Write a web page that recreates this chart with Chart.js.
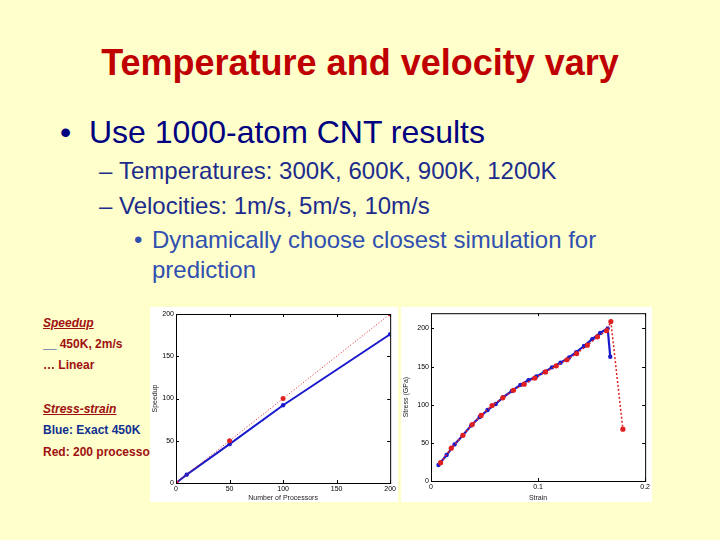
<!DOCTYPE html>
<html>
<head>
<meta charset="utf-8">
<script src="https://cdn.jsdelivr.net/npm/chart.js@4"></script>
<style>
  body { margin: 0; width: 720px; height: 540px; background: #FFFFCC; font-family: "Liberation Sans", Arial, sans-serif; position: relative; overflow: hidden; }
  .t { position: absolute; white-space: nowrap; }
  .title { left: 0; width: 720px; text-align: center; top: 45px; font-size: 36px; line-height: 36px; font-weight: bold; color: #C00000; }
  .l1 { font-size: 32px; line-height: 32px; color: #000080; }
  .l2 { font-size: 24px; line-height: 24px; color: #1C2C8C; }
  .l3 { font-size: 24px; line-height: 24px; color: #3050B0; }
  .side { font-size: 12px; line-height: 12px; font-weight: bold; color: #A01010; left: 43px; }
  .box { position: absolute; background: #fff; }
</style>
</head>
<body>
<div class="t title">Temperature and velocity vary</div>
<div class="t l1" style="left:60px;top:116px">•</div>
<div class="t l1" style="left:89px;top:116px">Use 1000-atom CNT results</div>
<div class="t l2" style="left:99px;top:159px">–</div>
<div class="t l2" style="left:119px;top:159px">Temperatures: 300K, 600K, 900K, 1200K</div>
<div class="t l2" style="left:99px;top:194px">–</div>
<div class="t l2" style="left:119px;top:194px">Velocities: 1m/s, 5m/s, 10m/s</div>
<div class="t l3" style="left:134px;top:228px">•</div>
<div class="t l3" style="left:152px;top:228px">Dynamically choose closest simulation for</div>
<div class="t l3" style="left:152px;top:258px">prediction</div>

<div class="t side" style="top:317px;font-style:italic;text-decoration:underline">Speedup</div>
<div class="t side" style="top:338px"><span style="color:#1030A0">__</span> 450K, 2m/s</div>
<div class="t side" style="top:359px">… Linear</div>
<div class="t side" style="top:403px;font-style:italic;text-decoration:underline">Stress-strain</div>
<div class="t side" style="top:424px;color:#103090">Blue: Exact 450K</div>
<div class="t side" style="top:446px">Red: 200 processors</div>

<div class="box" style="left:150px;top:307px;width:248px;height:195px"><canvas id="c1"></canvas></div>
<div class="box" style="left:401px;top:307px;width:251px;height:195px"><canvas id="c2"></canvas></div>

<script>
// Speedup chart
const procs = [0, 10, 50, 100, 200]
const speedup = [0, 9.9, 46, 92, 176]
const linearProcs = [0, 50, 100, 200]
const linearSpeedup = [0, 50, 100, 200]

// Stress-strain chart
const exactStrain = [0.0070, 0.0146, 0.0220, 0.0298, 0.0377, 0.0455, 0.0528, 0.0604, 0.0676, 0.0755, 0.0835, 0.0910, 0.0984, 0.1060, 0.1130, 0.1210, 0.1290, 0.1357, 0.1429, 0.1506, 0.1580, 0.1650, 0.1674]
const exactStress = [21, 34, 48, 60, 73, 84, 93, 101, 110, 118, 126, 132, 137, 143, 149, 155, 162, 169, 177, 186, 194, 200, 163]
const procStrain = [0.0090, 0.0189, 0.0298, 0.0385, 0.0468, 0.0570, 0.0670, 0.0770, 0.0870, 0.0970, 0.1070, 0.1170, 0.1270, 0.1360, 0.1460, 0.1555, 0.1640, 0.1680, 0.1792]
const procStress = [24, 43, 60, 74, 86, 99, 109, 119, 127, 135, 143, 151, 159, 167, 178, 189, 197, 209, 68]

const blue = "#1A1ACC"
const red = "#E02020"
const font = { family: "Liberation Sans", size: 7 }

function points(xs, ys) {
  return xs.map((x, i) => ({ x: x, y: ys[i] }))
}

// matlab style frame with inward tick marks
const framePlugin = {
  id: "frame",
  afterDraw(chart) {
    const { ctx, chartArea: a, scales } = chart
    ctx.save()
    ctx.strokeStyle = "#000"
    ctx.lineWidth = 1
    ctx.strokeRect(a.left + 0.5, a.top + 0.5, a.right - a.left, a.bottom - a.top)
    ctx.beginPath()
    scales.x.ticks.forEach((t) => {
      const px = Math.round(scales.x.getPixelForValue(t.value)) + 0.5
      ctx.moveTo(px, a.bottom); ctx.lineTo(px, a.bottom - 3)
      ctx.moveTo(px, a.top); ctx.lineTo(px, a.top + 3)
    })
    scales.y.ticks.forEach((t) => {
      const py = Math.round(scales.y.getPixelForValue(t.value)) + 0.5
      ctx.moveTo(a.left, py); ctx.lineTo(a.left + 3, py)
      ctx.moveTo(a.right, py); ctx.lineTo(a.right - 3, py)
    })
    ctx.stroke()
    ctx.restore()
  }
}

function axis(min, max, step, title, fitSize, isY, lastLabel) {
  return {
    type: "linear", min: min, max: max,
    ticks: { stepSize: step, font: font, color: "#000", padding: 2, maxRotation: 0, autoSkip: false },
    grid: { display: false, drawTicks: false },
    border: { display: false },
    title: { display: true, text: title, font: font, color: "#222", padding: isY ? 1 : { top: 0, bottom: 0 } },
    afterBuildTicks: (scale) => { scale.ticks = scale.ticks.filter((t) => t.value <= lastLabel + 1e-9) },
    afterFit: (scale) => { if (isY) scale.width = fitSize; else scale.height = fitSize }
  }
}

new Chart(document.getElementById("c1"), {
  type: "scatter",
  data: {
    datasets: [
      { data: points(linearProcs, linearSpeedup), showLine: true, borderColor: red, borderWidth: 1, borderDash: [1, 2], pointRadius: 2.5, pointBackgroundColor: red, pointBorderWidth: 0 },
      { data: points(procs, speedup), showLine: true, borderColor: blue, borderWidth: 2, pointRadius: 2.2, pointBackgroundColor: blue, pointBorderWidth: 0 }
    ]
  },
  options: {
    responsive: true, maintainAspectRatio: false, animation: false,
    layout: { padding: { top: 7, right: 7, left: 0, bottom: 0 } },
    plugins: { legend: { display: false }, tooltip: { enabled: false } },
    scales: {
      x: axis(0, 200, 50, "Number of Processors", 19, false, 200),
      y: axis(0, 200, 50, "Speedup", 26, true, 200)
    }
  },
  plugins: [framePlugin]
})

new Chart(document.getElementById("c2"), {
  type: "scatter",
  data: {
    datasets: [
      { data: points(procStrain, procStress), showLine: true, borderColor: red, borderWidth: 1.5, borderDash: [2, 2], pointRadius: 2.6, pointBackgroundColor: red, pointBorderWidth: 0 },
      { data: points(exactStrain, exactStress), showLine: true, borderColor: blue, borderWidth: 2.2, pointRadius: 2.2, pointBackgroundColor: blue, pointBorderWidth: 0 }
    ]
  },
  options: {
    responsive: true, maintainAspectRatio: false, animation: false,
    layout: { padding: { top: 5, right: 6, left: 0, bottom: 0 } },
    plugins: { legend: { display: false }, tooltip: { enabled: false } },
    scales: {
      x: axis(0, 0.2, 0.1, "Strain", 21, false, 0.2),
      y: axis(0, 220, 50, "Stress (GPa)", 30, true, 200)
    }
  },
  plugins: [framePlugin]
})
</script>
</body>
</html>
